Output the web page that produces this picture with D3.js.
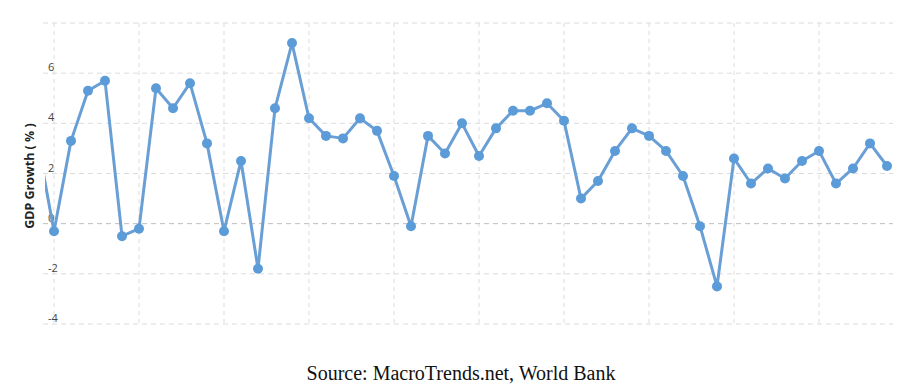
<!DOCTYPE html>
<html>
<head>
<meta charset="utf-8">
<script src="https://cdn.jsdelivr.net/npm/d3@7"></script>
<style>
  body { margin: 0; background: #fff; }
  svg { display: block; }
</style>
</head>
<body>
<div id="chart"></div>
<script>
// US GDP growth, annual %
const years = d3.range(1969, 2020);
const growth = [
  3.4, -0.3, 3.3, 5.3, 5.7, -0.5, -0.2, 5.4, 4.6, 5.6,
  3.2, -0.3, 2.5, -1.8, 4.6, 7.2, 4.2, 3.5, 3.4, 4.2,
  3.7, 1.9, -0.1, 3.5, 2.8, 4.0, 2.7, 3.8, 4.5, 4.5,
  4.8, 4.1, 1.0, 1.7, 2.9, 3.8, 3.5, 2.9, 1.9, -0.1,
  -2.5, 2.6, 1.6, 2.2, 1.8, 2.5, 2.9, 1.6, 2.2, 3.2,
  2.3
];
const yTicks = [-4, -2, 0, 2, 4, 6];
const yGrid = [-4, -2, 0, 2, 4, 6, 8];
const xGrid = [1970, 1975, 1980, 1985, 1990, 1995, 2000, 2005, 2010, 2015];
const yTitle = "GDP Growth ( % )";
const source = "Source: MacroTrends.net, World Bank";

const width = 907, height = 387;
const plot = { left: 45, right: 893, top: 23, bottom: 324 };

const data = years.map((y, i) => ({ year: y, value: growth[i] }));

const svg = d3.select("#chart").append("svg")
    .attr("width", width)
    .attr("height", height);

const x = d3.scaleLinear().domain([1970, 2015]).range([54, 819]);
const y = d3.scaleLinear().domain([-4, 8]).range([plot.bottom, plot.top]);

svg.append("clipPath").attr("id", "clip")
  .append("rect")
    .attr("x", plot.left).attr("y", 0)
    .attr("width", plot.right - plot.left).attr("height", plot.bottom + 10);

// grid
svg.append("g").selectAll("line")
  .data(xGrid)
  .join("line")
    .attr("x1", d => x(d)).attr("x2", d => x(d))
    .attr("y1", plot.top).attr("y2", plot.bottom)
    .attr("stroke", "#dcdcdc")
    .attr("stroke-dasharray", "4,4");

svg.append("g").selectAll("line")
  .data(yGrid)
  .join("line")
    .attr("x1", plot.left - 2).attr("x2", plot.right)
    .attr("y1", d => y(d)).attr("y2", d => y(d))
    .attr("stroke", d => d === 0 ? "#bdbdbd" : "#dcdcdc")
    .attr("stroke-dasharray", "5,4");

// tick labels sit just above their grid line
svg.append("g").selectAll("text")
  .data(yTicks)
  .join("text")
    .attr("x", 48)
    .attr("y", d => y(d) - 2)
    .attr("font-family", "'Open Sans', sans-serif")
    .attr("font-size", 11)
    .attr("fill", "#444")
    .text(d => d);

svg.append("text")
    .attr("transform", `translate(34,${y(1.9)}) rotate(-90)`)
    .attr("text-anchor", "middle")
    .attr("font-family", "'Open Sans', sans-serif")
    .attr("font-weight", "bold")
    .attr("font-size", 12.5)
    .attr("fill", "#222")
    .text(yTitle);

const line = d3.line()
    .x(d => x(d.year))
    .y(d => y(d.value));

const series = svg.append("g").attr("clip-path", "url(#clip)");

series.append("path")
    .datum(data)
    .attr("fill", "none")
    .attr("stroke", "#6a9fd6")
    .attr("stroke-width", 3)
    .attr("stroke-linejoin", "round")
    .attr("d", line);

series.selectAll("circle")
  .data(data)
  .join("circle")
    .attr("cx", d => x(d.year))
    .attr("cy", d => y(d.value))
    .attr("r", 5)
    .attr("fill", "#5b9bd8");

svg.append("text")
    .attr("x", 461)
    .attr("y", 380)
    .attr("text-anchor", "middle")
    .attr("font-family", "'Liberation Serif', 'Times New Roman', serif")
    .attr("font-size", 20)
    .attr("fill", "#111")
    .text(source);
</script>
</body>
</html>
